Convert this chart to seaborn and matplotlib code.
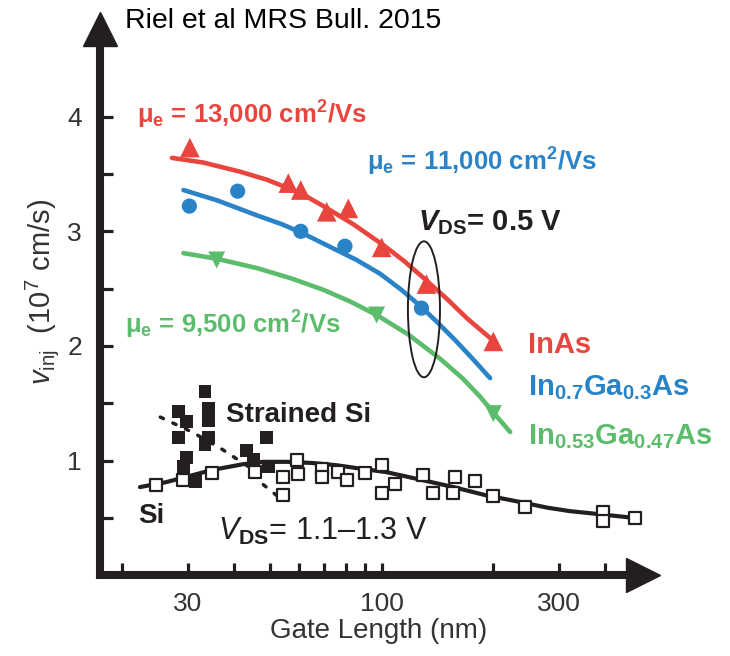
import matplotlib.pyplot as plt
import seaborn as sns
from matplotlib.patches import Ellipse
from matplotlib.ticker import FixedLocator, FixedFormatter, NullFormatter

# InAs, V_DS = 0.5 V (red triangles + fit)
inas_len = [30.4, 56.0, 60.5, 71.1, 81.3, 100, 132, 200]
inas_v = [3.73, 3.42, 3.36, 3.17, 3.20, 2.86, 2.54, 2.04]
inas_fit_len = [27.2, 33, 41.5, 49, 56.6, 63, 69.6, 84, 101, 115, 130, 150, 170, 196, 205]
inas_fit_v = [3.64, 3.60, 3.52, 3.45, 3.37, 3.30, 3.22, 3.06, 2.88, 2.74, 2.59, 2.41, 2.24, 2.07, 2.00]

# In0.7Ga0.3As (blue circles + fit)
ingaas7_len = [30.3, 40.9, 60.5, 79.6, 128]
ingaas7_v = [3.22, 3.35, 3.00, 2.87, 2.33]
ingaas7_fit_len = [29.2, 36, 46, 54, 61.5, 72, 85.6, 99, 113, 128, 143, 159, 178, 196]
ingaas7_fit_v = [3.36, 3.27, 3.14, 3.06, 2.98, 2.87, 2.75, 2.63, 2.49, 2.34, 2.19, 2.04, 1.87, 1.72]

# In0.53Ga0.47As (green down-triangles + fit)
ingaas53_len = [35.9, 96.9, 200]
ingaas53_v = [2.75, 2.27, 1.41]
ingaas53_fit_len = [29.2, 36, 46, 57, 69.6, 82, 97, 118, 143.6, 165, 184, 200, 222]
ingaas53_fit_v = [2.81, 2.76, 2.68, 2.59, 2.49, 2.39, 2.27, 2.10, 1.89, 1.72, 1.56, 1.42, 1.25]

# Si, V_DS = 1.1-1.3 V (open squares + fit)
si_len = [24.7, 29.2, 34.8, 45.6, 54.3, 54.3, 59.0, 59.6, 68.9, 68.9, 76.4, 80.5, 90.2,
          100, 100, 108.6, 129.5, 137.8, 157.8, 156, 178.4, 200, 243, 396, 396, 482]
si_v = [0.79, 0.83, 0.89, 0.90, 0.86, 0.70, 1.01, 0.88, 0.93, 0.86, 0.90, 0.83, 0.89,
        0.96, 0.72, 0.80, 0.875, 0.72, 0.86, 0.72, 0.82, 0.69, 0.60, 0.555, 0.47, 0.50]
si_fit_len = [22.3, 26, 29.8, 35, 42.4, 48, 55.5, 65, 75.7, 88, 103, 125, 156, 190, 236,
              280, 322, 396, 482]
si_fit_v = [0.77, 0.81, 0.86, 0.92, 0.97, 0.99, 0.99, 0.98, 0.96, 0.93, 0.90, 0.84, 0.77,
            0.70, 0.64, 0.59, 0.56, 0.53, 0.50]

# Strained Si (filled squares + dotted trend)
ssi_len = [28.3, 29.8, 28.3, 29.8, 29.2, 31.4, 33.4, 34.1, 34.1, 34.1, 33.4, 43.3, 45.1, 49.0, 49.5]
ssi_v = [1.43, 1.34, 1.20, 1.03, 0.95, 0.82, 1.60, 1.46, 1.35, 1.20, 1.14, 1.09, 1.01, 1.20, 0.95]
ssi_fit_len = [25.3, 30.8, 36.7, 45.1, 48.0, 53.8]
ssi_fit_v = [1.38, 1.25, 1.11, 0.92, 0.79, 0.66]

x_major = [30, 100, 300]
x_major_labels = ['30', '100', '300']
x_minor = [20, 40, 50, 60, 70, 80, 90, 200, 400]
y_major = [1, 2, 3, 4]
y_minor = [0.5, 1.5, 2.5, 3.5]

RED = '#e8453f'
BLUE = '#2a83c6'
GREEN = '#5bbd6b'
INK = '#231f20'

sns.set_style('ticks')
plt.rcParams['font.family'] = ['Liberation Sans', 'DejaVu Sans']
plt.rcParams['mathtext.fontset'] = 'custom'
plt.rcParams['mathtext.rm'] = 'Liberation Sans'
plt.rcParams['mathtext.it'] = 'Liberation Sans:italic'
plt.rcParams['mathtext.bf'] = 'Liberation Sans:bold'
plt.rcParams['mathtext.bfit'] = 'Liberation Sans:italic:bold'
plt.rcParams['mathtext.default'] = 'regular'

fig = plt.figure(figsize=(7.3, 6.56), dpi=100)
ax = fig.add_axes([0.137, 0.1229, 0.7445, 0.8322])
ax.set_xscale('log')

# fits
sns.lineplot(x=inas_fit_len, y=inas_fit_v, color=RED, lw=3.3, ax=ax, zorder=2)
sns.lineplot(x=ingaas7_fit_len, y=ingaas7_fit_v, color=BLUE, lw=3.3, ax=ax, zorder=2)
sns.lineplot(x=ingaas53_fit_len, y=ingaas53_fit_v, color=GREEN, lw=3.3, ax=ax, zorder=2)
sns.lineplot(x=si_fit_len, y=si_fit_v, color=INK, lw=3.0, ax=ax, zorder=2)
sns.lineplot(x=ssi_fit_len, y=ssi_fit_v, color=INK, lw=2.5, linestyle=(0, (1, 3)),
             dash_capstyle='round', ax=ax, zorder=2)

# data points
sns.scatterplot(x=inas_len, y=inas_v, marker='^', s=200, color=RED, edgecolor='none', ax=ax, zorder=3)
sns.scatterplot(x=ingaas7_len, y=ingaas7_v, marker='o', s=120, color=BLUE, edgecolor='none', ax=ax, zorder=3)
sns.scatterplot(x=ingaas53_len, y=ingaas53_v, marker='v', s=150, color=GREEN, edgecolor='none', ax=ax, zorder=3)
sns.scatterplot(x=ssi_len, y=ssi_v, marker='s', s=85, color=INK, edgecolor='none', ax=ax, zorder=3)
sns.scatterplot(x=si_len, y=si_v, marker='s', s=70, color='white', edgecolor=INK, linewidth=1.6, ax=ax, zorder=4)

ax.set_xlim(17.4, 508)
ax.set_ylim(0, 4.76)

# axes as arrows
sns.despine(ax=ax)
for side in ['left', 'bottom']:
    ax.spines[side].set_linewidth(5.8)
    ax.spines[side].set_color(INK)
ax.plot([1], [0], marker='>', ms=24, color=INK, transform=ax.transAxes, clip_on=False)
ax.plot([0], [1], marker='^', ms=24, color=INK, transform=ax.transAxes, clip_on=False)

ax.xaxis.set_major_locator(FixedLocator(x_major))
ax.xaxis.set_major_formatter(FixedFormatter(x_major_labels))
ax.xaxis.set_minor_locator(FixedLocator(x_minor))
ax.xaxis.set_minor_formatter(NullFormatter())
ax.yaxis.set_major_locator(FixedLocator(y_major))
ax.yaxis.set_minor_locator(FixedLocator(y_minor))
ax.tick_params(which='both', direction='in', length=9, width=2.3, color=INK, labelcolor='#333333')
ax.tick_params(axis='x', which='major', labelsize=19, pad=12)
ax.tick_params(axis='y', which='major', labelsize=19, pad=13)

ax.set_xlabel('Gate Length (nm)', fontsize=20, color='#333333')
ax.xaxis.set_label_coords(0.513, -0.078)
ax.set_ylabel(r'$\mathit{v}_{\mathrm{inj}}$  (10$^7$ cm/s)', fontsize=21, color='#333333')
ax.yaxis.set_label_coords(-0.072, 0.52)

fig.text(0.171, 0.957, 'Riel et al MRS Bull. 2015', fontsize=20.5, color='black', va='baseline')

# annotations
ax.text(21.9, 3.94, r'μ$_e$ = 13,000 cm$^2$/Vs', color=RED, fontsize=18.5, fontweight='bold')
ax.text(91.1, 3.53, r'μ$_e$ = 11,000 cm$^2$/Vs', color=BLUE, fontsize=18.5, fontweight='bold')
ax.text(20.3, 2.11, r'μ$_e$ = 9,500 cm$^2$/Vs', color=GREEN, fontsize=18.5, fontweight='bold')
ax.text(125.5, 3.01, r'$\mathbfit{V}_{DS}$= 0.5 V', color=INK, fontsize=21, fontweight='bold')
ax.text(248, 1.94, 'InAs', color=RED, fontsize=21, fontweight='bold')
ax.text(248, 1.57, r'In$_{0.7}$Ga$_{0.3}$As', color=BLUE, fontsize=21, fontweight='bold')
ax.text(248, 1.14, r'In$_{0.53}$Ga$_{0.47}$As', color=GREEN, fontsize=21, fontweight='bold')
ax.text(38.0, 1.34, 'Strained Si', color=INK, fontsize=20, fontweight='bold')
ax.text(22.1, 0.454, 'Si', color=INK, fontsize=20, fontweight='bold')
ax.text(36.3, 0.31, r'$\mathit{V}_{\mathbf{DS}}$= 1.1–1.3 V', color=INK, fontsize=22)

# ellipse around the 130 nm points
cx, cy = ax.transAxes.inverted().transform(ax.transData.transform((130, 2.32)))
ax.add_patch(Ellipse((cx, cy), 0.059, 0.249, transform=ax.transAxes, fill=False,
                     lw=1.4, ec=INK, zorder=5))

fig.savefig('out.png', dpi=100, facecolor='white')
